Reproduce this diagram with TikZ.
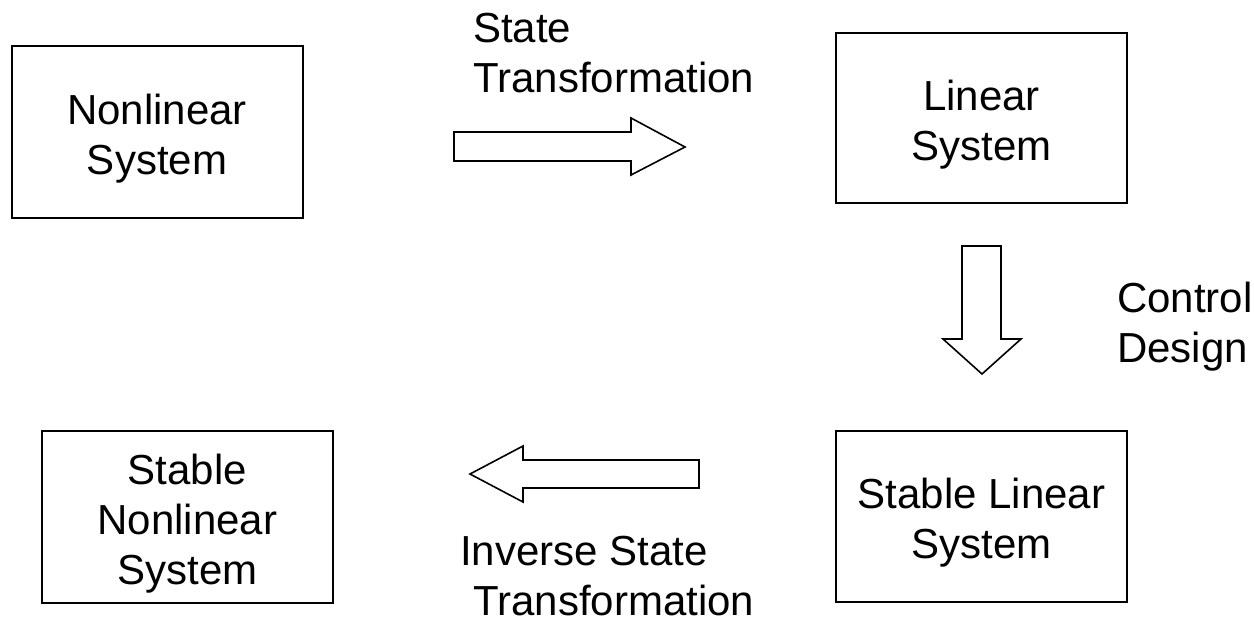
\documentclass[tikz,border=0pt]{standalone}
\usepackage{fontspec}
\setmainfont{Liberation Sans}
\newcommand\mytopstrut{\rule{0pt}{43pt}}
\begin{document}
\begin{tikzpicture}[x=1pt,y=-1pt,
  sysbox/.style={draw=black,line width=2pt,minimum width=291pt,align=center,inner sep=0pt,font=\fontsize{42}{50}\selectfont},
  lbl/.style={align=left,inner sep=0pt,font=\fontsize{42}{50}\selectfont},
  blockarrow/.style={draw=black,line width=1.6pt,fill=white,line join=miter}]
\useasboundingbox (0,0) rectangle (1254,622);
\node[sysbox,minimum height=172pt] (nl) at (157,132) {\mytopstrut Nonlinear\\System};
\node[sysbox,minimum height=170pt] (lin) at (981.5,118) {\mytopstrut Linear\\System};
\node[sysbox,minimum height=171pt] (sl) at (981.5,516.5) {\mytopstrut Stable Linear\\System};
\node[sysbox,minimum height=172pt] (snl) at (187.5,517) {\mytopstrut Stable\\Nonlinear\\System};
% arrows
\draw[blockarrow] (454,132) -- (631,132) -- (631,118) -- (685,147) -- (631,175) -- (631,161) -- (454,161) -- cycle;
\draw[blockarrow] (962,246) -- (1001,246) -- (1001,339) -- (1021,339) -- (982,374) -- (943,339) -- (962,339) -- cycle;
\draw[blockarrow] (699,460) -- (523,460) -- (523,446) -- (470,474) -- (523,502) -- (523,488) -- (699,488) -- cycle;
% labels
\node[lbl,anchor=north west] (st) at (473,13) {State\\Transformation};
\node[lbl,anchor=north west] (cd) at (1117,282) {Control\\Design};
\node[lbl,anchor=north west] (ist) at (460,536) {Inverse State\\\hspace*{13pt}Transformation};
\end{tikzpicture}
\end{document}
